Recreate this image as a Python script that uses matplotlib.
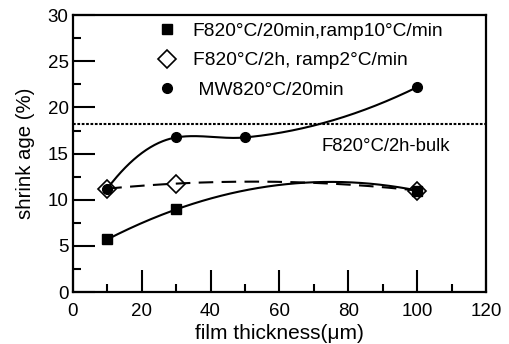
import numpy as np
import matplotlib
matplotlib.use("Agg")
import matplotlib.pyplot as plt
from matplotlib.lines import Line2D
from matplotlib.ticker import MultipleLocator

plt.rcParams['font.family'] = ['Liberation Sans', 'DejaVu Sans']

# data
x_sq = [10, 30, 100]
y_sq = [5.7, 8.95, 11.0]
x_dm = [10, 30, 100]
y_dm = [11.2, 11.75, 11.0]
x_ci = [10, 30, 50, 100]
y_ci = [11.2, 16.75, 16.75, 22.2]
bulk = 18.2
labels = ["F820°C/20min,ramp10°C/min", "F820°C/2h, ramp2°C/min", " MW820°C/20min"]
bulk_label = "F820°C/2h-bulk"

fig = plt.figure(figsize=(5.09, 3.44), dpi=100)
ax = fig.add_axes([0.143, 0.151, 0.812, 0.805])


def cardinal(xs, ys, tension=0.5, n=100):
    x = np.asarray(xs, float)
    y = np.asarray(ys, float)
    k = len(x)
    m = np.zeros(k)
    for i in range(1, k - 1):
        m[i] = (1 - tension) * (y[i + 1] - y[i - 1]) / (x[i + 1] - x[i - 1])
    m[0] = 2 * (y[1] - y[0]) / (x[1] - x[0]) - m[1]
    m[-1] = 2 * (y[-1] - y[-2]) / (x[-1] - x[-2]) - m[-2]
    xs_out, ys_out = [], []
    for i in range(k - 1):
        h = x[i + 1] - x[i]
        t = np.linspace(0, 1, n)
        h00 = 2 * t ** 3 - 3 * t ** 2 + 1
        h10 = t ** 3 - 2 * t ** 2 + t
        h01 = -2 * t ** 3 + 3 * t ** 2
        h11 = t ** 3 - t ** 2
        xs_out.append(x[i] + t * h)
        ys_out.append(h00 * y[i] + h10 * h * m[i] + h01 * y[i + 1] + h11 * h * m[i + 1])
    return np.concatenate(xs_out), np.concatenate(ys_out)


def quad(xs, ys):
    c = np.polyfit(xs, ys, len(xs) - 1)
    xx = np.linspace(min(xs), max(xs), 200)
    return xx, np.polyval(c, xx)


xx, yy = quad(x_sq, y_sq)
ax.plot(xx, yy, color='black', lw=1.5)
xx, yy = quad(x_dm, y_dm)
ax.plot(xx, yy, color='black', lw=1.5, dashes=(7, 4))
xx, yy = cardinal(x_ci, y_ci, tension=0.55)
ax.plot(xx, yy, color='black', lw=1.5)
ax.axhline(bulk, color='black', lw=1.5, dashes=(1.3, 0.8))

ax.plot(x_sq, y_sq, 's', color='black', ms=7.5, zorder=3)
ax.plot(x_ci, y_ci, 'o', color='black', ms=7, zorder=3)
ax.plot(x_dm, y_dm, 'D', mfc='none', mec='black', mew=1.2, ms=9, zorder=4)

ax.text(72.3, 15.8, bulk_label, fontsize=13.3, va='center', ha='left')

handles = [Line2D([], [], ls='none', marker='s', color='black', ms=7.5),
           Line2D([], [], ls='none', marker='D', mfc='white', mec='black', mew=1.2, ms=9),
           Line2D([], [], ls='none', marker='o', color='black', ms=7)]
ax.legend(handles, labels, loc='upper left', bbox_to_anchor=(0.163, 1.035), frameon=False,
          fontsize=13.8, handlelength=1.0, handletextpad=0.85, labelspacing=0.62)

ax.set_xlim(0, 120)
ax.set_ylim(0, 30)
ax.xaxis.set_major_locator(MultipleLocator(20))
ax.xaxis.set_minor_locator(MultipleLocator(10))
ax.yaxis.set_major_locator(MultipleLocator(5))
ax.yaxis.set_minor_locator(MultipleLocator(2.5))
ax.tick_params(which='both', direction='in', top=False, right=False, width=1.5, labelsize=13.5)
ax.tick_params(which='major', length=16)
ax.tick_params(axis='x', which='major', pad=8)
ax.tick_params(axis='y', which='major', pad=3)
ax.tick_params(which='minor', length=6)
for s in ax.spines.values():
    s.set_linewidth(1.6)

ax.set_xlabel("film thickness(μm)", fontsize=15, labelpad=3)
ax.set_ylabel("shrink age (%)", fontsize=14.7, labelpad=9)

fig.savefig("out.png", dpi=100)
